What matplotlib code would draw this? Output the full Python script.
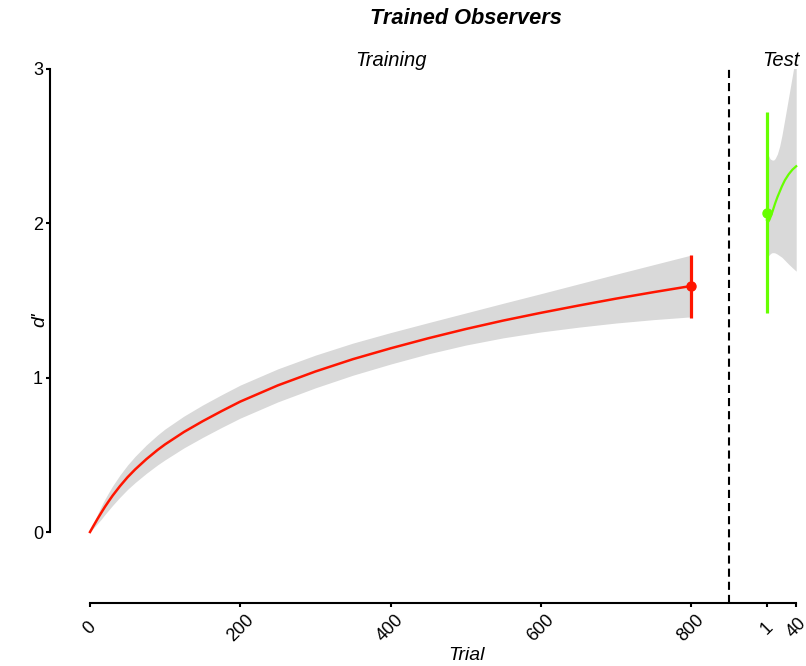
import matplotlib
matplotlib.use("Agg")
import matplotlib.pyplot as plt
import matplotlib.transforms as mtransforms

plt.rcParams['font.family'] = ['Liberation Sans', 'DejaVu Sans']

# ---------------- data ----------------
train_trial = [0, 5, 10, 15, 20, 25, 30, 40, 50, 60, 75, 90, 100, 125, 150, 175, 200,
               250, 300, 350, 400, 450, 500, 550, 600, 650, 700, 750, 800]
train_dprime = [0, 0.043, 0.085, 0.125, 0.164, 0.2, 0.235, 0.298, 0.355, 0.405, 0.472,
                0.532, 0.568, 0.648, 0.718, 0.783, 0.845,
                0.95, 1.04, 1.12, 1.19, 1.255, 1.315, 1.37, 1.42, 1.467, 1.512, 1.554, 1.594]
train_upper = [0, 0.059, 0.115, 0.167, 0.214, 0.257, 0.298, 0.37, 0.434, 0.49, 0.564,
               0.629, 0.668, 0.751, 0.823, 0.889, 0.952,
               1.057, 1.146, 1.224, 1.292, 1.356, 1.419, 1.482, 1.544, 1.607, 1.67, 1.732, 1.794]
train_lower = [0, 0.027, 0.055, 0.083, 0.114, 0.143, 0.172, 0.226, 0.276, 0.32, 0.38,
               0.435, 0.468, 0.545, 0.613, 0.677, 0.738,
               0.843, 0.934, 1.016, 1.088, 1.154, 1.211, 1.258, 1.296, 1.327, 1.354, 1.376, 1.394]

train_point_trial = 800
train_point = 1.594
train_point_lo = 1.387
train_point_hi = 1.795

test_trial = [1, 2, 3, 4, 5, 6, 8, 10, 12, 15, 18, 21, 25, 30, 35, 40]
test_dprime = [2.02, 2.01, 2.012, 2.02, 2.03, 2.045, 2.07, 2.1, 2.13, 2.17, 2.205, 2.24,
               2.28, 2.318, 2.348, 2.37]
test_upper = [2.47, 2.455, 2.44, 2.43, 2.42, 2.415, 2.41, 2.41, 2.42, 2.45, 2.5, 2.57,
              2.68, 2.82, 2.96, 3.1]
test_lower = [1.77, 1.78, 1.79, 1.795, 1.80, 1.805, 1.81, 1.81, 1.808, 1.80, 1.79, 1.78,
              1.76, 1.735, 1.712, 1.69]

test_point_trial = 1
test_point = 2.07
test_point_lo = 1.42
test_point_hi = 2.72

train_ticks = [0, 200, 400, 600, 800]
test_ticks = [1, 40]
y_ticks = [0, 1, 2, 3]

TEST_OFFSET = 900
BREAK_AT = 850

# ---------------- figure ----------------
W, H = 806, 666
fig = plt.figure(figsize=(W / 100, H / 100), dpi=100)

ax_left_px, ax_right_px = 50, 882
ax_top_px, ax_bot_px = 69, 603
ax = fig.add_axes([ax_left_px / W, 1 - ax_bot_px / H,
                   (ax_right_px - ax_left_px) / W, (ax_bot_px - ax_top_px) / H])

RED = '#FF1500'
GREEN = '#66FF00'
BAND = '#D9D9D9'

# training
ax.fill_between(train_trial, train_lower, train_upper, color=BAND, lw=0, zorder=1)
ax.plot(train_trial, train_dprime, color=RED, lw=1.8, zorder=3)
ax.vlines(train_point_trial, train_point_lo, train_point_hi, color=RED, lw=2.3, zorder=3)
ax.plot([train_point_trial], [train_point], 'o', color=RED, ms=6.5, zorder=4)

# test
tx = [TEST_OFFSET + t for t in test_trial]
ax.fill_between(tx, test_lower, test_upper, color=BAND, lw=0, zorder=1)
ax.plot(tx, test_dprime, color=GREEN, lw=1.6, zorder=3)
ax.vlines(TEST_OFFSET + test_point_trial, test_point_lo, test_point_hi, color=GREEN, lw=2.3, zorder=3)
ax.plot([TEST_OFFSET + test_point_trial], [test_point], 'o', color=GREEN, ms=6.5, zorder=4)

# break line
ax.axvline(BREAK_AT, color='black', lw=1.5, linestyle=(0, (3.9, 2.4)), zorder=2)

# limits
ax.set_xlim(-53.24, 1054.2)
ax.set_ylim(-0.46, 3.0)

# spines
for s in ['top', 'right']:
    ax.spines[s].set_visible(False)
ax.spines['left'].set_bounds(0, 3)
ax.spines['bottom'].set_bounds(0, TEST_OFFSET + test_ticks[-1])
ax.spines['left'].set_linewidth(1.5)
ax.spines['bottom'].set_linewidth(1.5)

# ticks
xt = train_ticks + [TEST_OFFSET + t for t in test_ticks]
xl = [str(t) for t in train_ticks] + [str(t) for t in test_ticks]
ax.set_xticks(xt)
ax.set_xticklabels(xl, rotation=45, rotation_mode='anchor', ha='center', va='center',
                   fontsize=13)
ax.tick_params(axis='x', length=3, width=1.5, pad=15)
ax.set_yticks(y_ticks)
ax.set_yticklabels([str(v) for v in y_ticks], fontsize=13)
ax.tick_params(axis='y', length=3, width=1.5, pad=2)

# texts
trans = mtransforms.blended_transform_factory(ax.transData, ax.transAxes)
ty = (ax_bot_px - 60) / (ax_bot_px - ax_top_px)
ax.text(400, ty, 'Training', transform=trans,
        ha='center', va='center', style='italic', fontsize=14.5)
ax.text(TEST_OFFSET + 20, ty, 'Test', transform=trans,
        ha='center', va='center', style='italic', fontsize=14.5)

fig.text(466 / W, 1 - 19 / H, 'Trained Observers', ha='center', va='center',
         style='italic', weight='bold', fontsize=15.7)
fig.text(466 / W, 1 - 655 / H, 'Trial', ha='center', va='center',
         style='italic', fontsize=14)
fig.text(40 / W, 1 - 320 / H, "d'", ha='center', va='center', rotation=90,
         style='italic', fontsize=14)

fig.savefig('out.png', dpi=100)
